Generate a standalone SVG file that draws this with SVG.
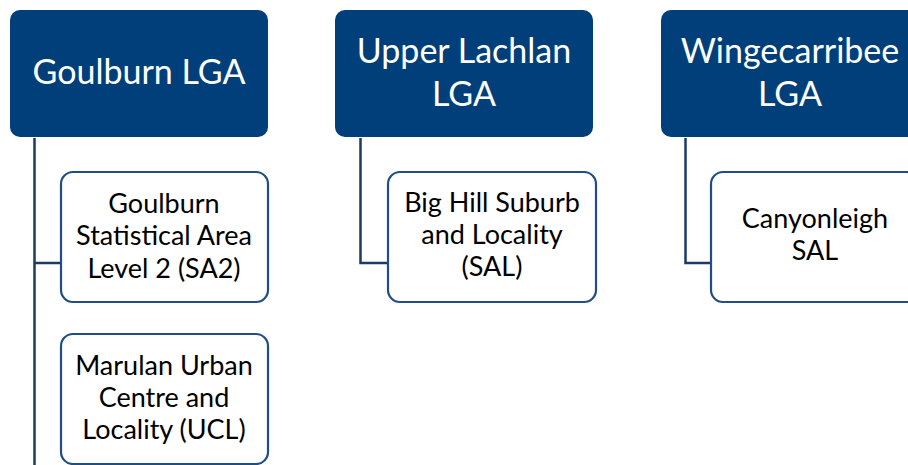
<svg xmlns="http://www.w3.org/2000/svg" width="908" height="465" viewBox="0 0 908 465">
<style>
.top{fill:#013F7B;}
.topt{fill:#ffffff;font-family:Lato,"Liberation Sans",sans-serif;font-size:34px;text-anchor:middle;}
.child{fill:#ffffff;stroke:#1F4E86;stroke-width:2.2;}
.ct{fill:#000000;font-family:Lato,"Liberation Sans",sans-serif;font-size:27px;text-anchor:middle;}
.conn{fill:none;stroke:#1A3A68;stroke-width:2.5;}
</style>
<rect width="908" height="465" fill="#ffffff"/>
<g id="connectors">
<path class="conn" d="M34.5,138 V465 M34.5,263 H62"/>
<path class="conn" d="M360.5,138 V263 H389"/>
<path class="conn" d="M685.5,138 V263 H713"/>
</g>
<g id="goulburn-lga">
<rect class="top" x="10" y="10" width="258" height="127" rx="10"/>
<text class="topt" x="139" y="84">Goulburn LGA</text>
</g>
<g id="upper-lachlan-lga">
<rect class="top" x="335" y="10" width="258" height="127" rx="10"/>
<text class="topt" x="464" y="63">Upper Lachlan</text>
<text class="topt" x="464" y="106">LGA</text>
</g>
<g id="wingecarribee-lga">
<rect class="top" x="661" y="10" width="258" height="127" rx="10"/>
<text class="topt" x="790" y="63">Wingecarribee</text>
<text class="topt" x="790" y="106">LGA</text>
</g>
<g id="goulburn-sa2">
<rect class="child" x="61" y="172" width="207" height="130" rx="12"/>
<text class="ct" x="164" y="213">Goulburn</text>
<text class="ct" x="164" y="245">Statistical Area</text>
<text class="ct" x="164" y="278">Level 2 (SA2)</text>
</g>
<g id="marulan-ucl">
<rect class="child" x="61" y="334" width="207" height="130" rx="12"/>
<text class="ct" x="164" y="375">Marulan Urban</text>
<text class="ct" x="164" y="407">Centre and</text>
<text class="ct" x="164" y="439">Locality (UCL)</text>
</g>
<g id="big-hill-sal">
<rect class="child" x="388" y="172" width="208" height="130" rx="12"/>
<text class="ct" x="492" y="212">Big Hill Suburb</text>
<text class="ct" x="492" y="244">and Locality</text>
<text class="ct" x="492" y="276">(SAL)</text>
</g>
<g id="canyonleigh-sal">
<rect class="child" x="711" y="172" width="208" height="130" rx="12"/>
<text class="ct" x="815" y="228">Canyonleigh</text>
<text class="ct" x="815" y="260">SAL</text>
</g>
</svg>
